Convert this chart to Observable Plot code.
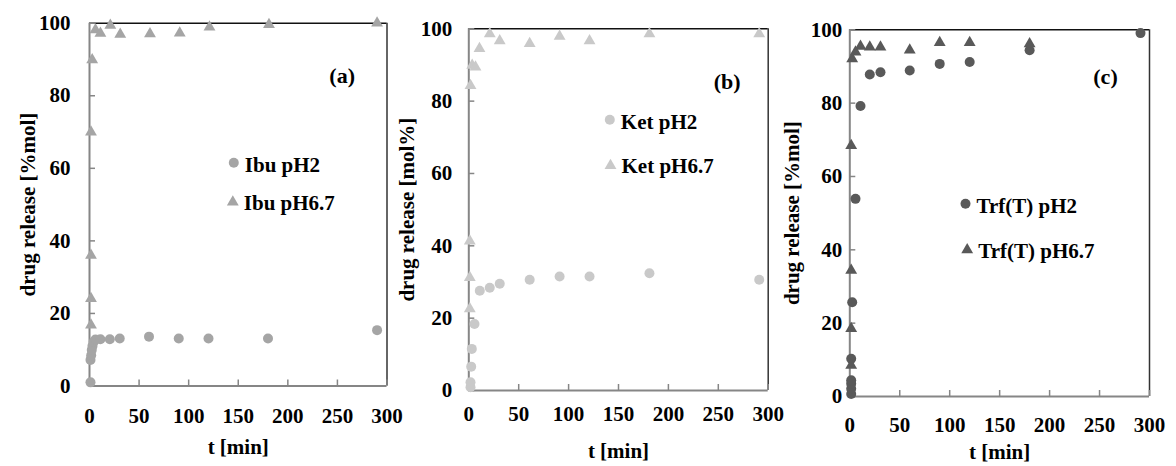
<!DOCTYPE html>
<html><head><meta charset="utf-8">
<script src="https://cdn.jsdelivr.net/npm/d3@7"></script>
<script src="https://cdn.jsdelivr.net/npm/@observablehq/plot@0.6"></script>
<style>
body{margin:0;background:#fff;}
#wrap{position:relative;width:1176px;height:466px;overflow:hidden;background:#fff;font-family:"Liberation Serif",serif;}
#wrap svg{position:absolute;top:0;}
</style></head><body><div id="wrap"></div>
<script>
// ---- data ----
const xTicks = [0, 50, 100, 150, 200, 250, 300];
const yTicks = [0, 20, 40, 60, 80, 100];

const ibuT2  = [1, 1, 1.7, 2.3, 3, 4.3, 6, 11, 20.5, 30.5, 60, 90, 120, 180, 290];
const ibuV2  = [1.0, 7.2, 8.5, 9.9, 11.0, 12.2, 12.8, 12.9, 12.9, 13.1, 13.6, 13.1, 13.1, 13.1, 15.4];
const ibuT67 = [1.5, 1.5, 1.5, 1.5, 2.7, 6, 11, 21, 31, 61, 91, 121, 181, 290];
const ibuV67 = [16.8, 24.1, 36.0, 70.0, 89.9, 98.2, 97.2, 99.4, 96.9, 97.1, 97.3, 98.9, 99.6, 100];

const ketT2  = [1.7, 1.7, 2.4, 3, 5.7, 11, 21, 31, 61, 91, 121, 181, 291];
const ketV2  = [0.9, 2.3, 6.6, 11.5, 18.4, 27.6, 28.4, 29.5, 30.6, 31.5, 31.5, 32.4, 30.6];
const ketT67 = [1, 1, 1, 1.7, 3.4, 6.7, 10.7, 21, 31, 61, 91, 121, 181, 291];
const ketV67 = [22.6, 31.2, 41.3, 84.3, 89.9, 89.4, 94.5, 98.6, 96.7, 95.9, 97.9, 96.7, 98.6, 98.6];

const trfT2  = [1.4, 1.4, 1.4, 1.4, 1.4, 2.4, 5.7, 10.7, 20, 30.7, 60, 90, 120, 180, 291];
const trfV2  = [0.7, 2.1, 3.5, 4.4, 10.3, 25.7, 53.9, 79.2, 87.8, 88.4, 88.9, 90.7, 91.2, 94.4, 99.1];
const trfT67 = [1.4, 1.4, 1.4, 1.4, 2.4, 5.7, 10.7, 20, 30.7, 60, 90, 120, 180];
const trfV67 = [8.5, 18.5, 34.4, 68.4, 92.1, 93.9, 95.5, 95.3, 95.3, 94.5, 96.5, 96.5, 96.2];

const seriesNames = [["Ibu pH2", "Ibu pH6.7"], ["Ket pH2", "Ket pH6.7"], ["Trf(T) pH2", "Trf(T) pH6.7"]];
const panelTags = ["(a)", "(b)", "(c)"];
const yTitles = ["drug release [%mol]", "drug release [mol%]", "drug release [%mol]"];
const xTitle = "t [min]";
const colors = ["#a5a5a5", "#c9c9c9", "#595959"];

// ---- layout ----
const layout = [
  {left: 0,   width: 400, mL: 89,   mR: 13.5, mT: 22.7, mB: 80.5, yPad: 19,   xPad: 30,   yLab: -61,   xLab: 61,   leg: [144.3, 139.6, 143.3, 179], tag: [252.7, 52.3]},
  {left: 380, width: 400, mL: 88.3, mR: 12.3, mT: 28.3, mB: 76,   yPad: 16.6, xPad: 23.3, yLab: -61.6, xLab: 60.7, leg: [141, 91, 141.7, 136.7],   tag: [258.4, 53.4]},
  {left: 770, width: 406, mL: 79.3, mR: 27,   mT: 29.3, mB: 70,   yPad: 7.6,  xPad: 29,   yLab: -57.6, xLab: 55.7, leg: [115.7, 174, 117.4, 220],  tag: [255.7, 47.4]}
];
const seriesData = [[ibuT2, ibuV2, ibuT67, ibuV67], [ketT2, ketV2, ketT67, ketV67], [trfT2, trfV2, trfT67, trfV67]];

const axisGray = "#868686";
const font = "Liberation Serif";
const fs = 21;
const wrap = document.getElementById("wrap");

layout.forEach((L, i) => {
  const [t2, v2, t67, v67] = seriesData[i];
  const d2 = t2.map((t, k) => ({t, v: v2[k]}));
  const d67 = t67.map((t, k) => ({t, v: v67[k]}));
  const col = colors[i];
  const [lx1, ly1, lx2, ly2] = L.leg;
  const txt = {fontSize: fs, fill: "#000"};
  const svg = Plot.plot({
    width: L.width, height: 466,
    marginLeft: L.mL, marginRight: L.mR, marginTop: L.mT, marginBottom: L.mB,
    style: {background: "transparent", overflow: "visible"},
    x: {domain: [0, 300]},
    y: {domain: [0, 100]},
    marks: [
      Plot.ruleY([100], {stroke: "#111", strokeWidth: 1.5}),
      Plot.ruleX([300], {stroke: "#333", strokeWidth: 1.5}),
      Plot.ruleY([0], {stroke: axisGray, strokeWidth: 2}),
      Plot.ruleX([0], {stroke: axisGray, strokeWidth: 2}),
      Plot.axisX(xTicks, {tickSize: -6, stroke: axisGray, strokeWidth: 1.5, fill: "none", label: null}),
      Plot.axisY(yTicks, {tickSize: -6, stroke: axisGray, strokeWidth: 1.5, fill: "none", label: null}),
      Plot.text(xTicks, {x: d => d, frameAnchor: "bottom", dy: L.xPad, lineAnchor: "middle", textAnchor: "middle", text: d => String(d), ...txt}),
      Plot.text(yTicks, {y: d => d, frameAnchor: "left", dx: -L.yPad, lineAnchor: "middle", textAnchor: "end", text: d => String(d), ...txt}),
      Plot.text([yTitles[i]], {frameAnchor: "left", dx: L.yLab, rotate: -90, lineAnchor: "middle", textAnchor: "middle", ...txt}),
      Plot.text([xTitle], {frameAnchor: "bottom", dy: L.xLab, lineAnchor: "middle", textAnchor: "middle", ...txt}),
      Plot.dot(d2, {x: "t", y: "v", r: 5, fill: col, symbol: "circle"}),
      Plot.dot(d67, {x: "t", y: "v", r: 4.4, fill: col, symbol: "triangle"}),
      Plot.dot([seriesNames[i][0]], {frameAnchor: "top-left", dx: lx1, dy: ly1, r: 5, fill: col, symbol: "circle"}),
      Plot.dot([seriesNames[i][1]], {frameAnchor: "top-left", dx: lx2, dy: ly2, r: 4.4, fill: col, symbol: "triangle"}),
      Plot.text([seriesNames[i][0]], {frameAnchor: "top-left", dx: lx1 + 11, dy: ly1 + 2, textAnchor: "start", lineAnchor: "middle", ...txt}),
      Plot.text([seriesNames[i][1]], {frameAnchor: "top-left", dx: lx2 + 11, dy: ly2 + 1, textAnchor: "start", lineAnchor: "middle", ...txt}),
      Plot.text([panelTags[i]], {frameAnchor: "top-left", dx: L.tag[0], dy: L.tag[1], textAnchor: "middle", lineAnchor: "middle", ...txt, fontSize: 22})
    ]
  });
  svg.setAttribute("font-family", font);
  svg.setAttribute("font-weight", "bold");
  svg.querySelectorAll("g, text").forEach(el => {
    el.setAttribute("font-family", font);
    el.style.fontFamily = "'Liberation Serif'";
    el.style.fontWeight = "bold";
  });
  svg.style.left = L.left + "px";
  wrap.appendChild(svg);
});
</script>
</body></html>
